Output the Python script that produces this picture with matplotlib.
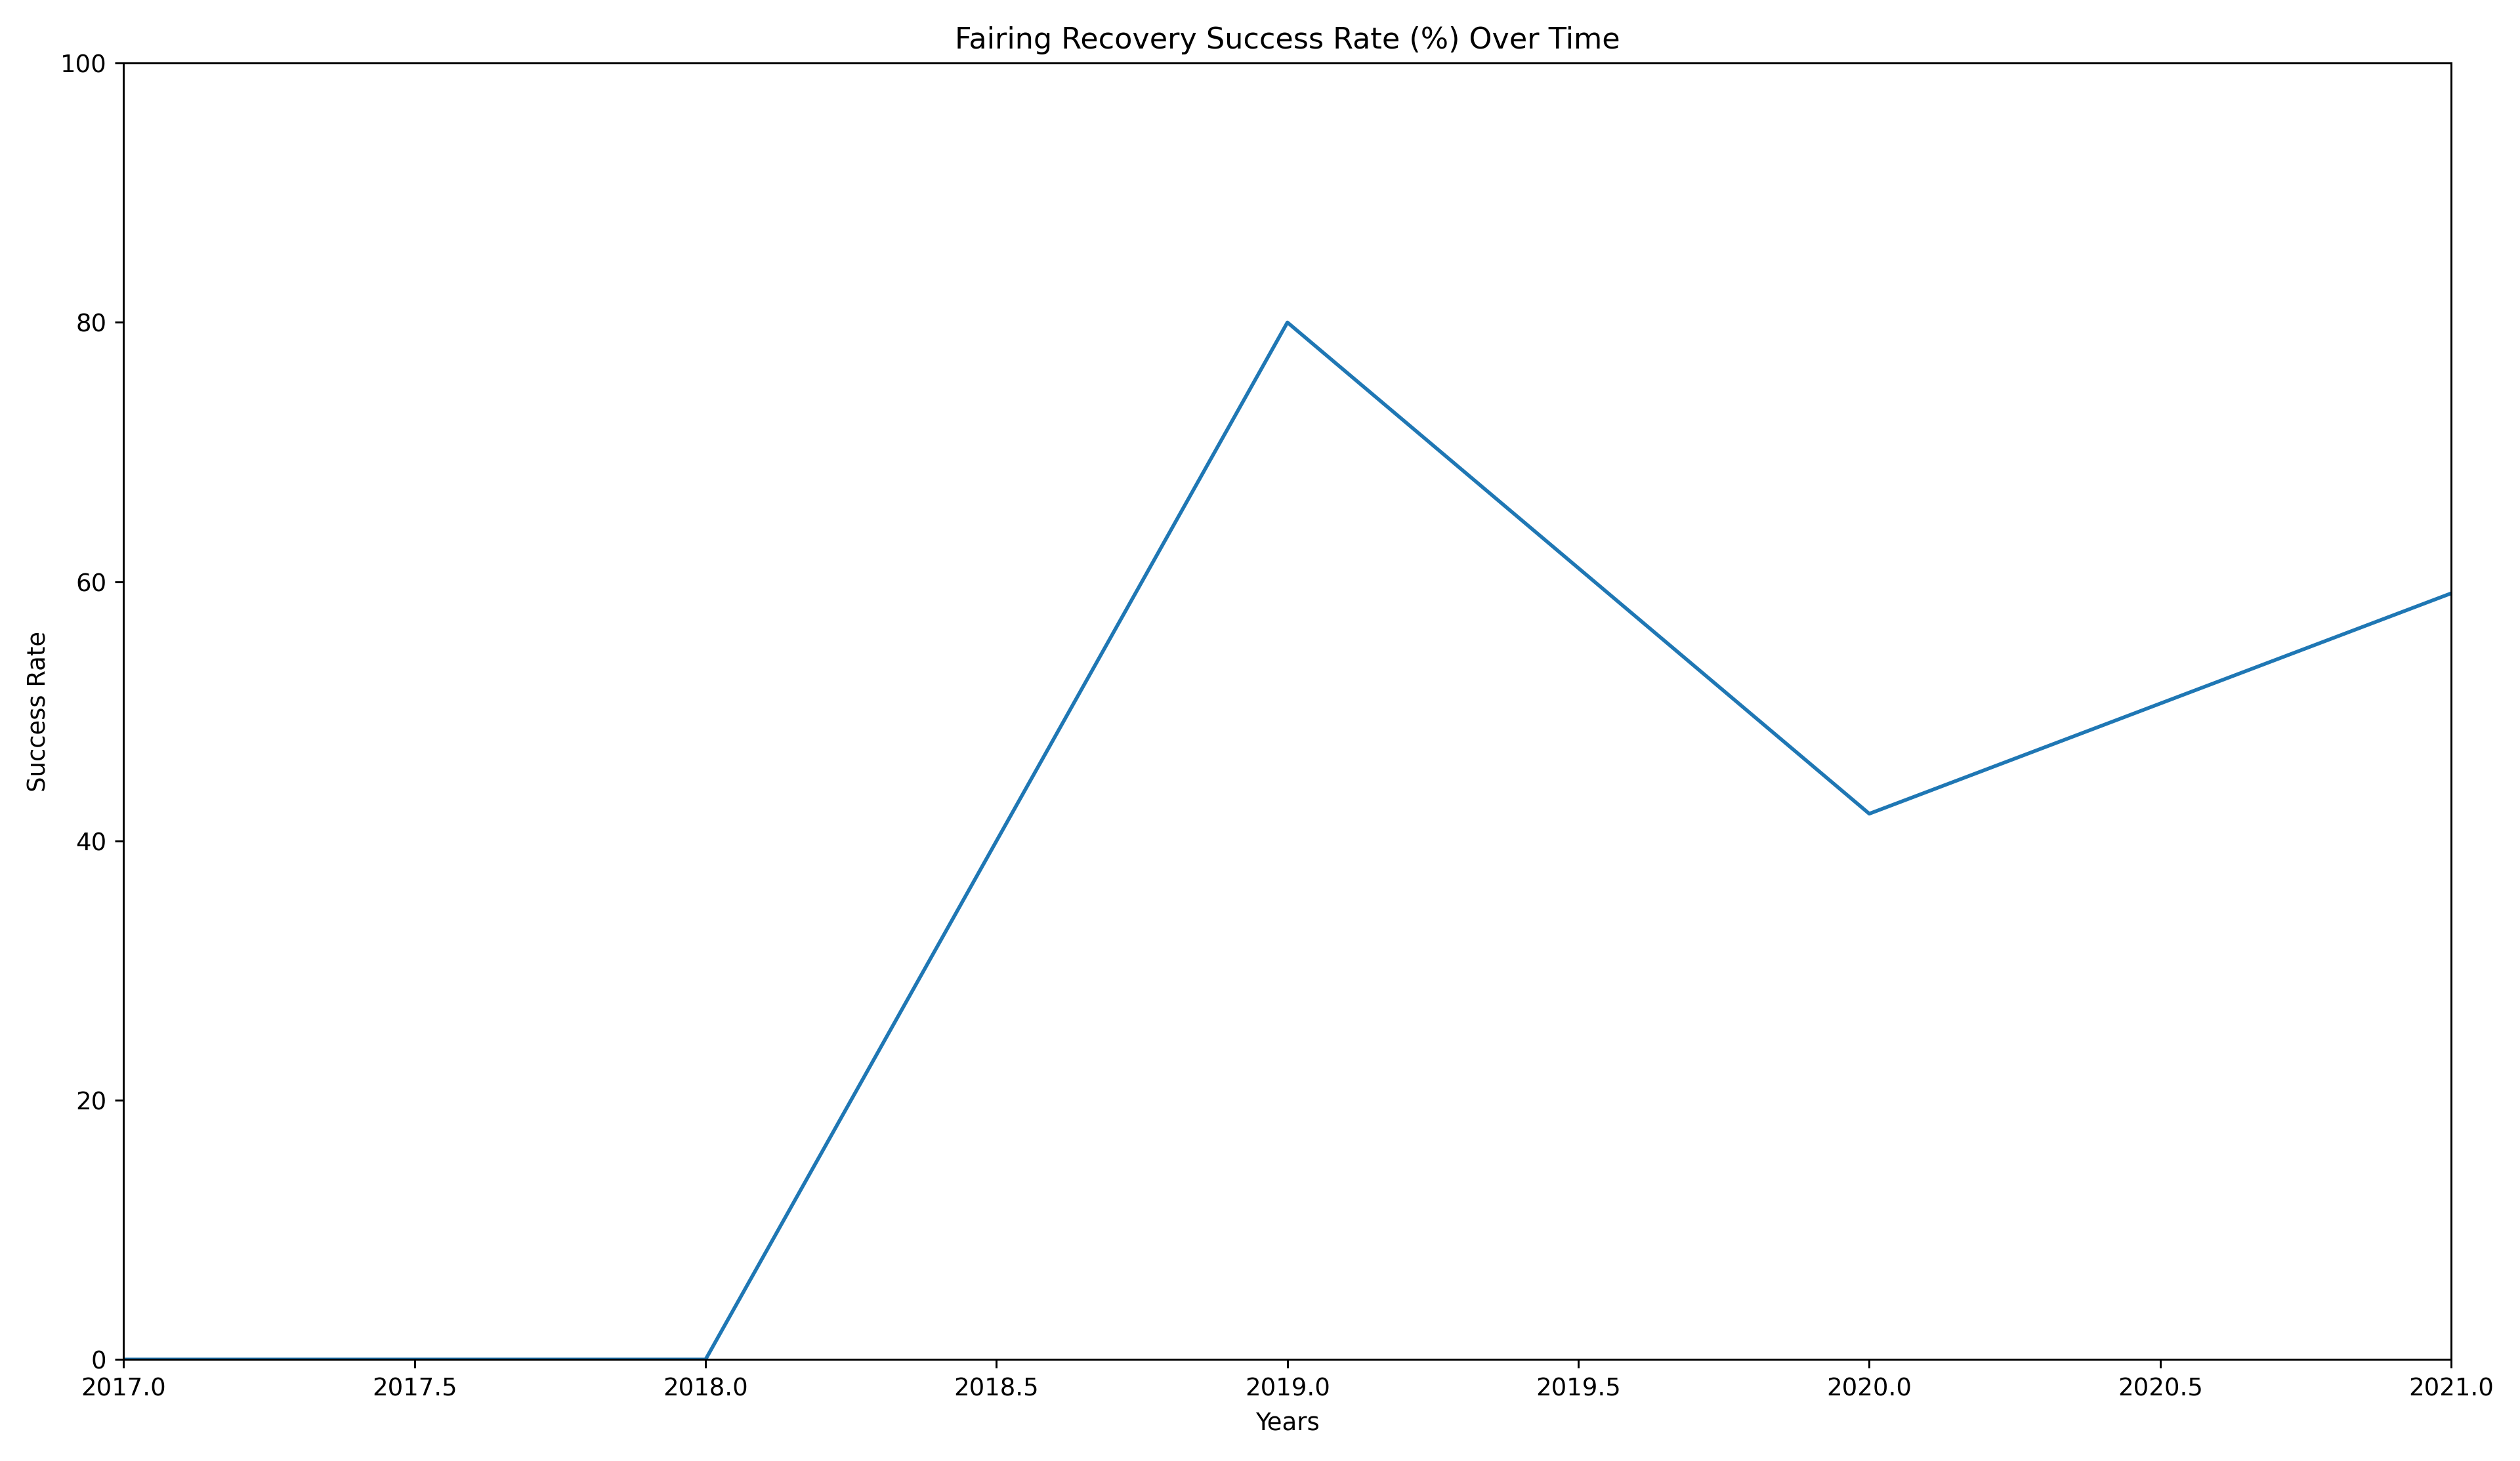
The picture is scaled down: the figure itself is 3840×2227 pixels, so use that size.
import matplotlib
matplotlib.use("Agg")
import matplotlib.pyplot as plt

years = [2017, 2018, 2019, 2020, 2021]
success_rate = [0, 0, 80, 42.1, 59.1]

dpi = 3840 / 14.4
fig, ax = plt.subplots(figsize=(14.4, 2227 / dpi), dpi=dpi)
ax.plot(years, success_rate, color="#1f77b4", linewidth=1.5)
ax.set_xlim(2017, 2021)
ax.set_ylim(0, 100)
ax.set_title("Fairing Recovery Success Rate (%) Over Time")
ax.set_xlabel("Years")
ax.set_ylabel("Success Rate")
fig.tight_layout()
fig.savefig("out.png", dpi=dpi)
